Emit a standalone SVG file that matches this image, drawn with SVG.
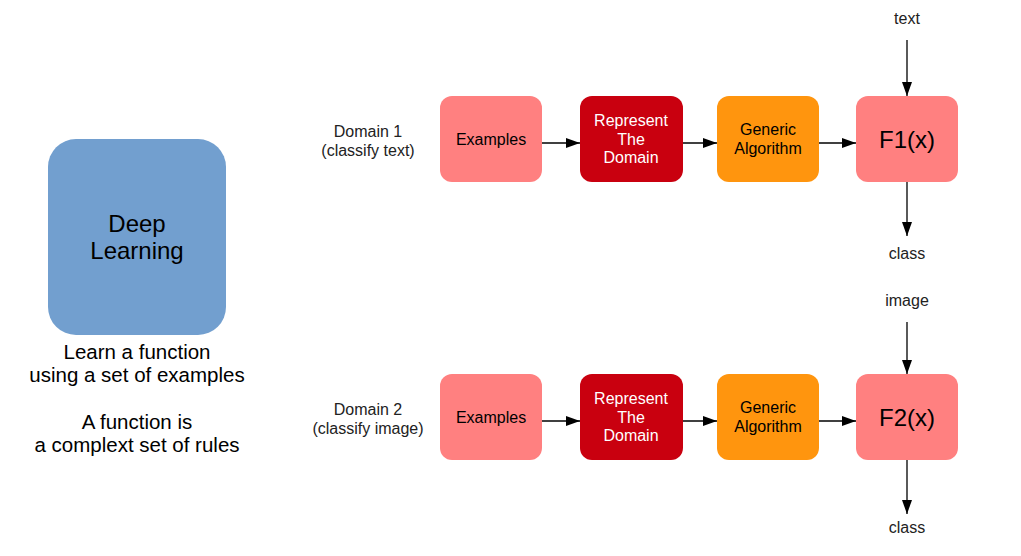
<svg xmlns="http://www.w3.org/2000/svg" width="1021" height="556" viewBox="0 0 1021 556">
<style>
text{font-family:"Liberation Sans",Arial,sans-serif;text-anchor:middle;fill:#000}
.s{font-size:16px}
.w{fill:#fff}
.l{font-size:16px;fill:#222}
.big{font-size:24px}
.side{font-size:20.5px}
.pink{fill:#ff8080}
.red{fill:#c9000f}
.org{fill:#ff950e}
.c{stroke:#000;stroke-width:1.3;fill:none;marker-end:url(#ah)}
</style>
<defs>
<marker id="ah" markerWidth="14" markerHeight="10" refX="14" refY="5" orient="auto" markerUnits="userSpaceOnUse">
<path d="M0,0 L14,5 L0,10 Z" fill="#000"/>
</marker>
</defs>
<rect width="1021" height="556" fill="#fff"/>
<g id="deep">
<rect x="48" y="139" width="178" height="196" rx="28" fill="#729fcf"/>
<text x="137" y="232" font-size="24">Deep</text>
<text x="137" y="259" font-size="24">Learning</text>
</g>
<g id="desc">
<text class="side" x="137" y="359">Learn a function</text>
<text class="side" x="137" y="382">using a set of examples</text>
<text class="side" x="137" y="429">A function is</text>
<text class="side" x="137" y="452">a complext set of rules</text>
</g>
<g id="d1label">
<text class="l" x="368" y="137">Domain 1</text>
<text class="l" x="368" y="156">(classify text)</text>
</g>
<g id="d2label">
<text class="l" x="368" y="415">Domain 2</text>
<text class="l" x="368" y="434">(classify image)</text>
</g>
<g id="ex1"><rect class="pink" x="440" y="96" width="102" height="86" rx="12"/><text class="s" x="491" y="145">Examples</text></g>
<g id="rep1"><rect class="red" x="580" y="96" width="103" height="86" rx="12"/><text class="s w" x="631" y="126">Represent</text><text class="s w" x="631" y="145">The</text><text class="s w" x="631" y="163">Domain</text></g>
<g id="gen1"><rect class="org" x="717" y="96" width="102" height="86" rx="12"/><text class="s" x="768" y="135">Generic</text><text class="s" x="768" y="154">Algorithm</text></g>
<g id="f1"><rect class="pink" x="856" y="96" width="102" height="86" rx="12"/><text class="big" x="907" y="148">F1(x)</text></g>
<g id="ex2"><rect class="pink" x="440" y="374" width="102" height="86" rx="12"/><text class="s" x="491" y="423">Examples</text></g>
<g id="rep2"><rect class="red" x="580" y="374" width="103" height="86" rx="12"/><text class="s w" x="631" y="404">Represent</text><text class="s w" x="631" y="423">The</text><text class="s w" x="631" y="441">Domain</text></g>
<g id="gen2"><rect class="org" x="717" y="374" width="102" height="86" rx="12"/><text class="s" x="768" y="413">Generic</text><text class="s" x="768" y="432">Algorithm</text></g>
<g id="f2"><rect class="pink" x="856" y="374" width="102" height="86" rx="12"/><text class="big" x="907" y="426">F2(x)</text></g>
<g id="io">
<text class="l" x="907" y="24">text</text>
<text class="l" x="907" y="259">class</text>
<text class="l" x="907" y="306">image</text>
<text class="l" x="907" y="533">class</text>
</g>
<g id="connectors">
<line class="c" x1="542" y1="143" x2="580" y2="143"/>
<line class="c" x1="683" y1="143" x2="717" y2="143"/>
<line class="c" x1="819" y1="143" x2="856" y2="143"/>
<line class="c" x1="907" y1="40" x2="907" y2="96"/>
<line class="c" x1="907" y1="182" x2="907" y2="236"/>
<line class="c" x1="542" y1="421" x2="580" y2="421"/>
<line class="c" x1="683" y1="421" x2="717" y2="421"/>
<line class="c" x1="819" y1="421" x2="856" y2="421"/>
<line class="c" x1="907" y1="322" x2="907" y2="374"/>
<line class="c" x1="907" y1="460" x2="907" y2="514"/>
</g>
</svg>
